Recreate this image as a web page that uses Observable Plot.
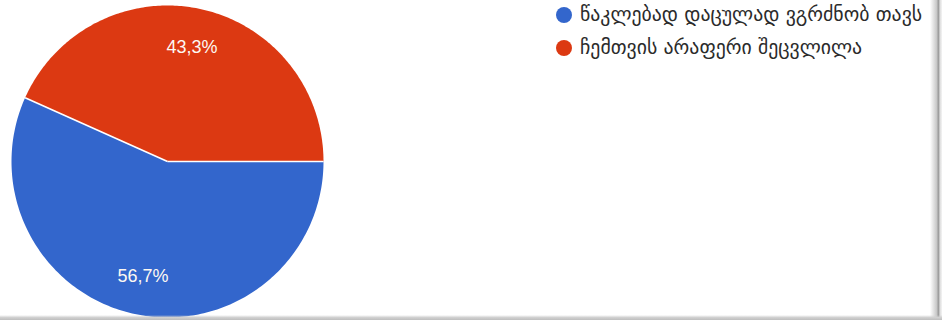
<!DOCTYPE html>
<html>
<head>
<meta charset="utf-8">
<script src="https://cdn.jsdelivr.net/npm/d3@7"></script>
<script src="https://cdn.jsdelivr.net/npm/@observablehq/plot@0.6"></script>
<style>
  html, body { margin: 0; padding: 0; background: #ffffff; }
  #wrap { position: relative; width: 942px; height: 320px; overflow: hidden; background: #fff; }
  #legend { position: absolute; left: 556px; top: -2px; font-family: "DejaVu Sans", sans-serif; font-size: 19.8px; color: #2b2b2b; }
  .item { display: flex; align-items: center; height: 33px; white-space: nowrap; }
  .sw { width: 16px; height: 16px; border-radius: 50%; margin-right: 8px; flex: none; }
  #edgeR { position: absolute; top: 0; right: 0; width: 12px; height: 320px; background: linear-gradient(to right, rgba(255,255,255,0), #c8c8c8 55%, #9a9a9a 70%, #e0e0e0 85%, #f4f4f4); }
  #edgeB { position: absolute; left: 0; bottom: 0; width: 942px; height: 5px; background: linear-gradient(to bottom, rgba(255,255,255,0), #d0d0d0 50%, #bdbdbd); }
</style>
</head>
<body>
<div id="wrap"><div id="chart"></div><div id="legend"></div><div id="edgeR"></div><div id="edgeB"></div></div>
<script>
const categories = ["წაკლებად დაცულად ვგრძნობ თავს", "ჩემთვის არაფერი შეცვლილა"];
const values = [56.7, 43.3];
const labels = ["56,7%", "43,3%"];
const colors = ["#3366cc", "#dc3912"];

const W = 942, H = 320;
const cx = 167, cy = 161, R = 156;

// pie layout starting at 3 o'clock, clockwise
const arcs = d3.pie().sort(null).startAngle(Math.PI / 2).endAngle(Math.PI / 2 + 2 * Math.PI)(values);

const slicePts = [];
arcs.forEach((a, i) => {
  slicePts.push({name: categories[i], x: 0, y: 0});
  const n = 200;
  for (let k = 0; k <= n; k++) {
    const t = a.startAngle + (a.endAngle - a.startAngle) * k / n;
    slicePts.push({name: categories[i], x: Math.sin(t), y: Math.cos(t)});
  }
  slicePts.push({name: categories[i], x: 0, y: 0});
});

const seps = arcs.map(a => ({x1: 0, y1: 0, x2: Math.sin(a.startAngle), y2: Math.cos(a.startAngle)}));
const labelPts = arcs.map((a, i) => {
  const m = (a.startAngle + a.endAngle) / 2;
  return {x: 0.75 * Math.sin(m), y: 0.75 * Math.cos(m), text: labels[i]};
});

const chart = Plot.plot({
  width: W, height: H,
  margin: 0,
  x: {domain: [-cx / R, (W - cx) / R], axis: null},
  y: {domain: [-(H - cy) / R, cy / R], axis: null},
  color: {domain: categories, range: colors},
  style: {background: "transparent"},
  marks: [
    Plot.line(slicePts, {x: "x", y: "y", z: "name", fill: "name", stroke: "none", curve: "linear"}),
    Plot.link(seps, {x1: "x1", y1: "y1", x2: "x2", y2: "y2", stroke: "white", strokeWidth: 1.6}),
    Plot.text(labelPts, {x: "x", y: "y", text: "text", fill: "#fdf8f2", fontSize: 18, fontFamily: "'Liberation Sans', Arial, sans-serif"})
  ]
});
document.getElementById("chart").appendChild(chart);

const legend = document.getElementById("legend");
categories.forEach((c, i) => {
  const item = document.createElement("div");
  item.className = "item";
  const sw = document.createElement("span");
  sw.className = "sw";
  sw.style.background = colors[i];
  const tx = document.createElement("span");
  tx.textContent = c;
  item.appendChild(sw);
  item.appendChild(tx);
  legend.appendChild(item);
});
</script>
</body>
</html>
